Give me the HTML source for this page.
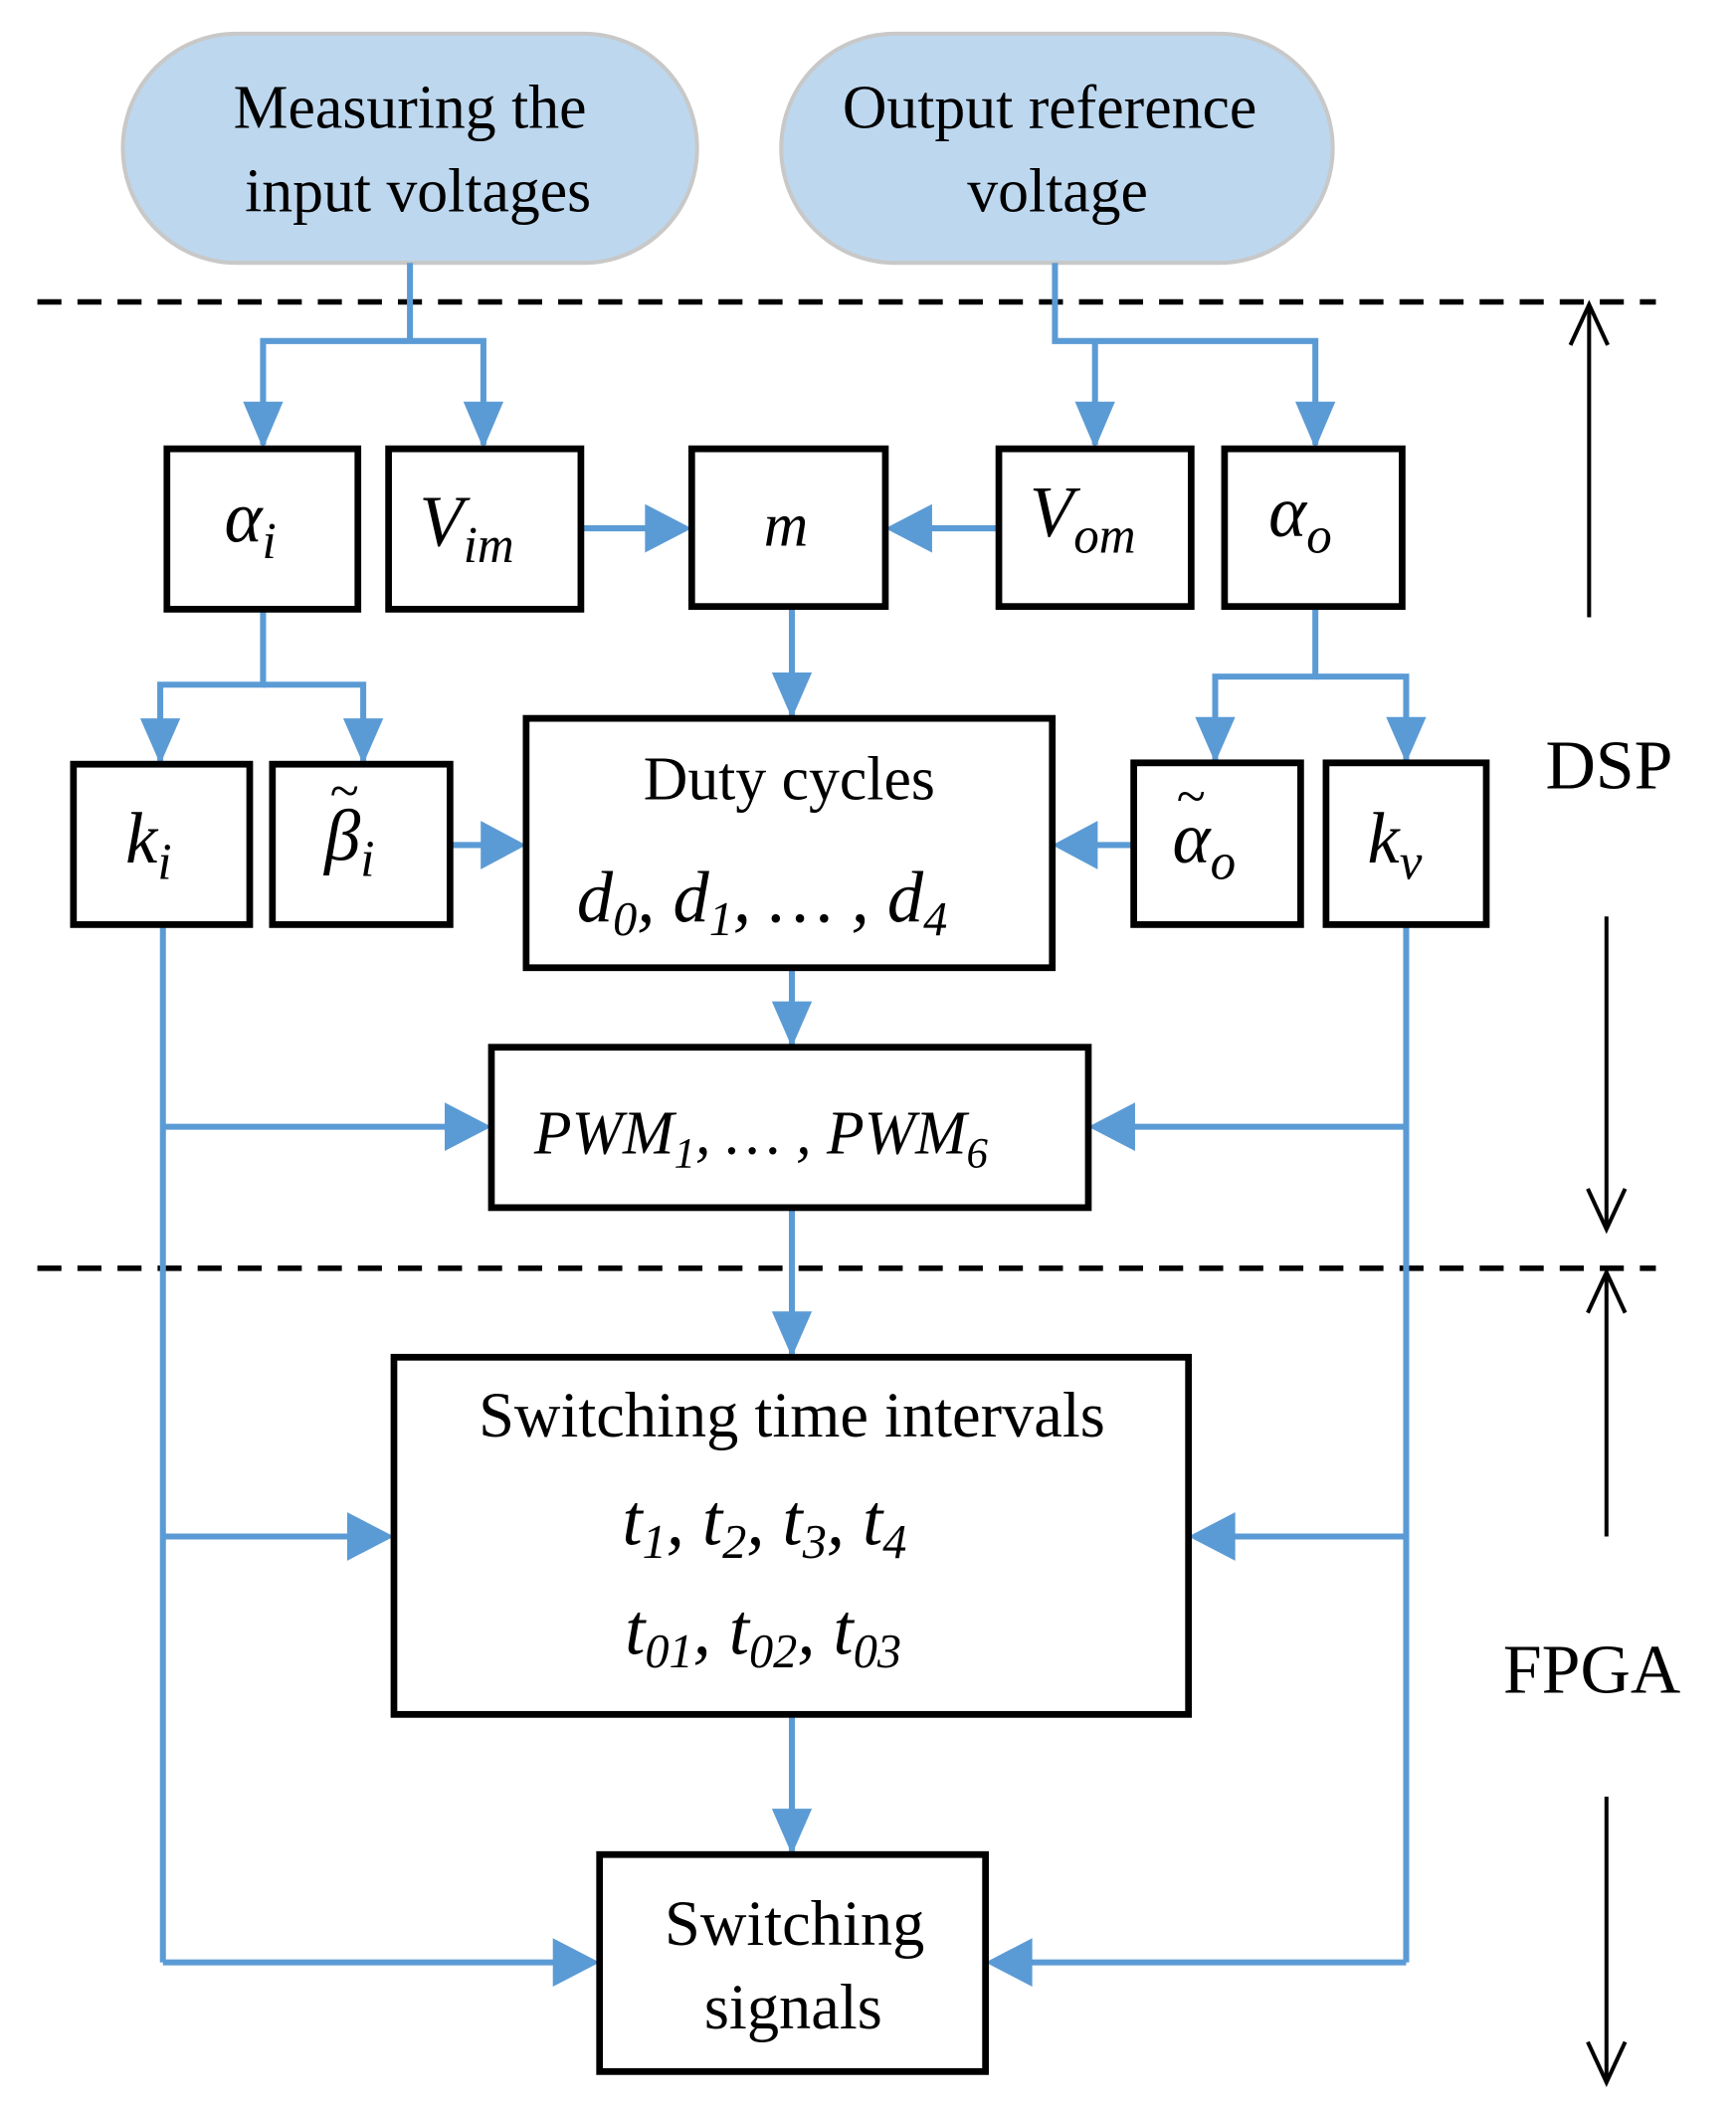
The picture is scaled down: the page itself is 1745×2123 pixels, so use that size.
<!DOCTYPE html>
<html><head><meta charset="utf-8"><style>
html,body{margin:0;padding:0;background:#fff}
svg{display:block}
text{font-family:"Liberation Serif",serif;fill:#000}
.m{font-style:italic}
</style></head><body>
<svg width="1745" height="2123" viewBox="0 0 1300 1567" preserveAspectRatio="none" xmlns="http://www.w3.org/2000/svg">
<g fill="none" stroke="#000" stroke-width="4">
<line x1="28" y1="224" x2="1240" y2="224" stroke-dasharray="18,12"/>
<line x1="28" y1="941" x2="1240" y2="941" stroke-dasharray="18,12"/>
</g>
<rect x="92" y="25" width="430" height="170" rx="85" fill="#BDD7EE" stroke="#c8c8c8" stroke-width="3"/>
<rect x="585" y="25" width="413" height="170" rx="85" fill="#BDD7EE" stroke="#c8c8c8" stroke-width="3"/>
<text x="307" y="95" font-size="46" text-anchor="middle">Measuring the</text>
<text x="313" y="157" font-size="46" text-anchor="middle">input voltages</text>
<text x="786" y="95" font-size="46" text-anchor="middle">Output reference</text>
<text x="792" y="157" font-size="46" text-anchor="middle">voltage</text>

<g stroke="#5B9BD5" stroke-width="4.5" fill="none">
<polyline points="307,195 307,253"/>
<polyline points="197,330 197,253 362,253 362,330"/>
<polyline points="790,195 790,253 985,253 985,330"/>
<line x1="820" y1="253" x2="820" y2="330"/>
<polyline points="197,452 197,508 120,508 120,565"/>
<polyline points="197,508 272,508 272,565"/>
<polyline points="985,450 985,502 910,502 910,564"/>
<polyline points="985,502 1053,502 1053,564"/>
<line x1="593" y1="450" x2="593" y2="531"/>
<line x1="593" y1="718" x2="593" y2="775"/>
<line x1="593" y1="896" x2="593" y2="1005"/>
<line x1="593" y1="1272" x2="593" y2="1374"/>
<line x1="122" y1="686" x2="122" y2="1456"/>
<line x1="1053" y1="686" x2="1053" y2="1456"/>
<line x1="435" y1="392" x2="490" y2="392"/>
<line x1="748" y1="392" x2="690" y2="392"/>
<line x1="337" y1="627" x2="365" y2="627"/>
<line x1="849" y1="627" x2="815" y2="627"/>
<line x1="122" y1="836" x2="340" y2="836"/>
<line x1="1053" y1="836" x2="845" y2="836"/>
<line x1="122" y1="1140" x2="265" y2="1140"/>
<line x1="1053" y1="1140" x2="920" y2="1140"/>
<line x1="122" y1="1456" x2="420" y2="1456"/>
<line x1="1053" y1="1456" x2="768" y2="1456"/>
</g>
<g fill="#5B9BD5">
<polygon points="182,298 212,298 197,333"/>
<polygon points="347,298 377,298 362,333"/>
<polygon points="805,298 835,298 820,333"/>
<polygon points="970,298 1000,298 985,333"/>
<polygon points="105,533 135,533 120,567"/>
<polygon points="257,533 287,533 272,567"/>
<polygon points="895,532 925,532 910,566"/>
<polygon points="1038,532 1068,532 1053,566"/>
<polygon points="578,499 608,499 593,533"/>
<polygon points="578,743 608,743 593,777"/>
<polygon points="578,973 608,973 593,1007"/>
<polygon points="578,1342 608,1342 593,1376"/>
<polygon points="483,374 483,410 518,392"/>
<polygon points="698,374 698,410 663,392"/>
<polygon points="360,609 360,645 394,627"/>
<polygon points="822,609 822,645 788,627"/>
<polygon points="333,818 333,854 368,836"/>
<polygon points="850,818 850,854 815,836"/>
<polygon points="260,1122 260,1158 295,1140"/>
<polygon points="925,1122 925,1158 890,1140"/>
<polygon points="414,1438 414,1474 449,1456"/>
<polygon points="773,1438 773,1474 738,1456"/>
</g>
<g fill="#fff" stroke="#000" stroke-width="5">
<rect x="125" y="333" width="143" height="119"/>
<rect x="291" y="333" width="144" height="119"/>
<rect x="518" y="333" width="145" height="117"/>
<rect x="748" y="333" width="144" height="117"/>
<rect x="917" y="333" width="133" height="117"/>
<rect x="55" y="567" width="132" height="119"/>
<rect x="204" y="567" width="133" height="119"/>
<rect x="394" y="533" width="394" height="185"/>
<rect x="849" y="566" width="125" height="120"/>
<rect x="993" y="566" width="120" height="120"/>
<rect x="368" y="777" width="447" height="119"/>
<rect x="295" y="1007" width="595" height="265"/>
<rect x="449" y="1376" width="289" height="161"/>
</g>
<g class="m" font-size="54">
<text x="168" y="402">α<tspan font-size="38" dy="12">i</tspan></text>
<text x="314" y="405">V<tspan font-size="38" dy="12">im</tspan></text>
<text x="572" y="405" font-size="46">m</text>
<text x="771" y="398">V<tspan font-size="38" dy="12">om</tspan></text>
<text x="950" y="398">α<tspan font-size="38" dy="12">o</tspan></text>
<text x="94" y="640">k<tspan font-size="38" dy="12">i</tspan></text>
<text x="243" y="638">β<tspan font-size="38" dy="12">i</tspan></text>
<text x="878" y="640">α<tspan font-size="38" dy="12">o</tspan></text>
<text x="1024" y="640">k<tspan font-size="38" dy="12">v</tspan></text>
<text x="432" y="684">d<tspan font-size="36" dy="10">0</tspan><tspan dy="-10">, d</tspan><tspan font-size="36" dy="10">1</tspan><tspan dy="-10">, … , d</tspan><tspan font-size="36" dy="10">4</tspan></text>
<text x="400" y="856" font-size="46">PWM<tspan font-size="32" dy="10">1</tspan><tspan dy="-10">, … , PWM</tspan><tspan font-size="32" dy="10">6</tspan></text>
<text x="466" y="1146">t<tspan font-size="36" dy="10">1</tspan><tspan dy="-10">, t</tspan><tspan font-size="36" dy="10">2</tspan><tspan dy="-10">, t</tspan><tspan font-size="36" dy="10">3</tspan><tspan dy="-10">, t</tspan><tspan font-size="36" dy="10">4</tspan></text>
<text x="468" y="1227">t<tspan font-size="36" dy="10">01</tspan><tspan dy="-10">, t</tspan><tspan font-size="36" dy="10">02</tspan><tspan dy="-10">, t</tspan><tspan font-size="36" dy="10">03</tspan></text>
</g>
<text x="258" y="600" font-size="40" text-anchor="middle">~</text>
<text x="892" y="604" font-size="40" text-anchor="middle">~</text>
<text x="591" y="593" font-size="46" text-anchor="middle">Duty cycles</text>
<text x="593" y="1066" font-size="48" text-anchor="middle">Switching time intervals</text>
<text x="595" y="1443" font-size="48" text-anchor="middle">Switching</text>
<text x="594" y="1505" font-size="48" text-anchor="middle">signals</text>
<text x="1205" y="585" font-size="52" text-anchor="middle">DSP</text>
<text x="1192" y="1256" font-size="52" text-anchor="middle">FPGA</text>
<g stroke="#000" stroke-width="3" fill="none">
<line x1="1190" y1="458" x2="1190" y2="226"/>
<polyline points="1176,256 1190,226 1204,256"/>
<line x1="1203" y1="680" x2="1203" y2="912"/>
<polyline points="1189,882 1203,912 1217,882"/>
<line x1="1203" y1="1140" x2="1203" y2="944"/>
<polyline points="1189,974 1203,944 1217,974"/>
<line x1="1203" y1="1333" x2="1203" y2="1545"/>
<polyline points="1189,1515 1203,1545 1217,1515"/>
</g>
</svg>
</body></html>
